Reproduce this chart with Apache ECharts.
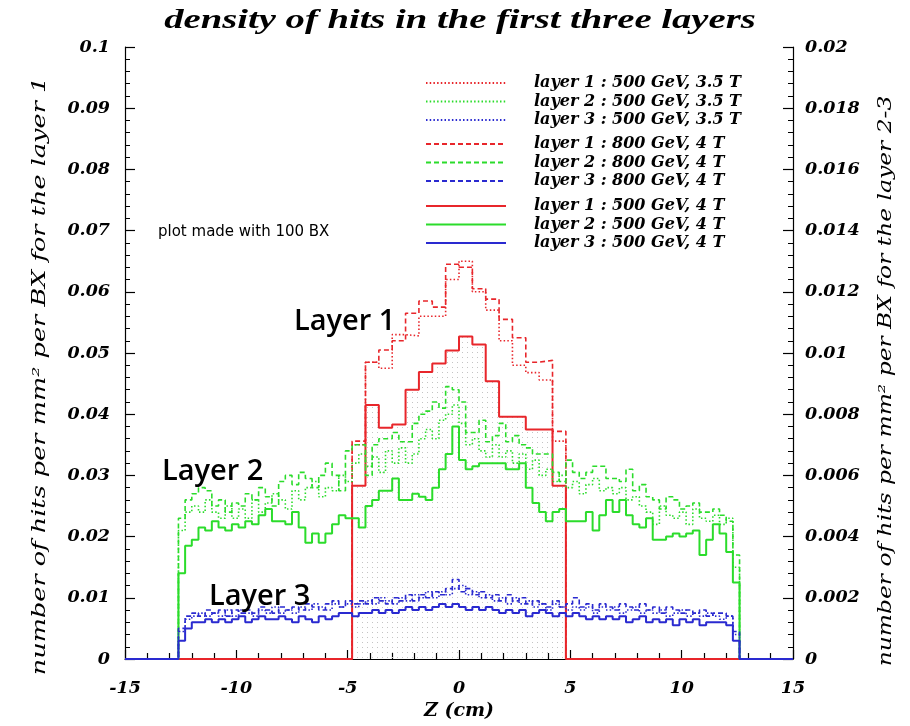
<!DOCTYPE html>
<html><head><meta charset="utf-8">
<script src="https://cdn.jsdelivr.net/npm/echarts@6/dist/echarts.min.js"></script>
<style>html,body{margin:0;padding:0;background:#fff}#chart{width:910px;height:726px}</style>
</head><body><div id="chart"></div>
<script>
// ---- axis ranges / binning (data units: z in cm) ----
const zMin = -15, zMax = 15;
const layer1Start = -4.8, layer1BinWidth = 0.6;
const layer23Start = -12.6, layer23BinWidth = 0.3;
const xTickValues = [-15, -10, -5, 0, 5, 10, 15];

// ---- layer 1 (left axis) ----
const layer1_500GeV_3p5T = [0.0350, 0.0485, 0.0475, 0.0530, 0.0528, 0.0560, 0.0560, 0.0620, 0.0650, 0.0600, 0.0570, 0.0520, 0.0480, 0.0468, 0.0456, 0.0356];
const layer1_800GeV_4T   = [0.0356, 0.0485, 0.0505, 0.0520, 0.0565, 0.0585, 0.0575, 0.0645, 0.0640, 0.0605, 0.0588, 0.0555, 0.0525, 0.0485, 0.0488, 0.0372];
const layer1_500GeV_4T   = [0.0283, 0.0415, 0.0378, 0.0383, 0.0440, 0.0469, 0.0483, 0.0504, 0.0527, 0.0514, 0.0454, 0.0396, 0.0396, 0.0375, 0.0375, 0.0283];

// ---- layer 2 (right axis) ----
const layer2_500GeV_3p5T = [
  0.0042, 0.0048, 0.0050, 0.0048, 0.0052, 0.0048, 0.0046, 0.0050, 0.0046, 0.0049, 0.0046, 0.0052,
  0.0048, 0.0051, 0.0054, 0.0052, 0.0049, 0.0055, 0.0052, 0.0056, 0.0058, 0.0053, 0.0056, 0.0055,
  0.0060, 0.0058, 0.0064, 0.0067, 0.0063, 0.0066, 0.0061, 0.0068, 0.0064, 0.0069, 0.0064, 0.0067,
  0.0072, 0.0075, 0.0072, 0.0078, 0.0080, 0.0083, 0.0077, 0.0070, 0.0072, 0.0068, 0.0066, 0.0070,
  0.0066, 0.0068, 0.0064, 0.0067, 0.0062, 0.0065, 0.0060, 0.0062, 0.0058, 0.0060, 0.0056, 0.0058,
  0.0054, 0.0057, 0.0059, 0.0055, 0.0056, 0.0054, 0.0056, 0.0052, 0.0053, 0.0050, 0.0048, 0.0044,
  0.0050, 0.0047, 0.0046, 0.0048, 0.0044, 0.0049, 0.0046, 0.0045, 0.0047, 0.0044, 0.0046, 0.0030];
const layer2_800GeV_4T = [
  0.0046, 0.0052, 0.0054, 0.0056, 0.0055, 0.0050, 0.0052, 0.0048, 0.0051, 0.0050, 0.0054, 0.0052,
  0.0056, 0.0053, 0.0050, 0.0058, 0.0060, 0.0057, 0.0061, 0.0059, 0.0056, 0.0060, 0.0064, 0.0060,
  0.0055, 0.0068, 0.0070, 0.0070, 0.0060, 0.0070, 0.0072, 0.0072, 0.0074, 0.0071, 0.0071, 0.0077,
  0.0080, 0.0081, 0.0084, 0.0082, 0.0089, 0.0088, 0.0084, 0.0074, 0.0074, 0.0078, 0.0071, 0.0073,
  0.0077, 0.0071, 0.0073, 0.0070, 0.0069, 0.0067, 0.0067, 0.0067, 0.0061, 0.0058, 0.0065, 0.0061,
  0.0059, 0.0061, 0.0063, 0.0063, 0.0059, 0.0059, 0.0058, 0.0062, 0.0055, 0.0057, 0.0053, 0.0052,
  0.0049, 0.0053, 0.0052, 0.0049, 0.0050, 0.0051, 0.0048, 0.0048, 0.0049, 0.0047, 0.0045, 0.0034];
const layer2_500GeV_4T = [
  0.0028, 0.0037, 0.0039, 0.0043, 0.0042, 0.0045, 0.0043, 0.0042, 0.0044, 0.0043, 0.0045, 0.0044,
  0.0047, 0.0049, 0.0045, 0.0045, 0.0044, 0.0048, 0.0043, 0.0038, 0.0041, 0.0038, 0.0041, 0.0044,
  0.0047, 0.0046, 0.0046, 0.0043, 0.0050, 0.0052, 0.0055, 0.0055, 0.0059, 0.0052, 0.0052, 0.0054,
  0.0053, 0.0052, 0.0056, 0.0062, 0.0067, 0.0076, 0.0065, 0.0062, 0.0063, 0.0064, 0.0064, 0.0064,
  0.0064, 0.0062, 0.0062, 0.0064, 0.0056, 0.0051, 0.0048, 0.0045, 0.0048, 0.0049, 0.0045, 0.0045,
  0.0045, 0.0048, 0.0042, 0.0047, 0.0052, 0.0048, 0.0052, 0.0047, 0.0044, 0.0043, 0.0046, 0.0039,
  0.0039, 0.0040, 0.0041, 0.0040, 0.0041, 0.0042, 0.0034, 0.0039, 0.0044, 0.0041, 0.0035, 0.0025];

// ---- layer 3 (right axis) ----
const layer3_500GeV_3p5T = [
  0.0009, 0.0013, 0.0014, 0.0015, 0.0014, 0.0015, 0.0014, 0.0016, 0.0014, 0.0016, 0.0015, 0.0014,
  0.0016, 0.0015, 0.0017, 0.0015, 0.0016, 0.0015, 0.0017, 0.0016, 0.0018, 0.0017, 0.0016, 0.0018,
  0.0017, 0.0018, 0.0017, 0.0018, 0.0019, 0.0018, 0.0020, 0.0019, 0.0018, 0.0020, 0.0019, 0.0021,
  0.0020, 0.0022, 0.0020, 0.0022, 0.0021, 0.0023, 0.0024, 0.0021, 0.0022, 0.0020, 0.0021, 0.0019,
  0.0020, 0.0018, 0.0020, 0.0018, 0.0019, 0.0017, 0.0018, 0.0016, 0.0018, 0.0017, 0.0016, 0.0017,
  0.0016, 0.0017, 0.0015, 0.0017, 0.0016, 0.0017, 0.0015, 0.0016, 0.0017, 0.0015, 0.0016, 0.0015,
  0.0016, 0.0014, 0.0015, 0.0016, 0.0014, 0.0015, 0.0014, 0.0015, 0.0014, 0.0013, 0.0014, 0.0008];
const layer3_800GeV_4T = [
  0.0010, 0.0014, 0.0015, 0.0014, 0.0016, 0.0015, 0.0016, 0.0014, 0.0016, 0.0015, 0.0016, 0.0015,
  0.0017, 0.0016, 0.0015, 0.0017, 0.0016, 0.0017, 0.0016, 0.0018, 0.0017, 0.0016, 0.0018, 0.0019,
  0.0017, 0.0019, 0.0018, 0.0019, 0.0018, 0.0020, 0.0019, 0.0018, 0.0020, 0.0019, 0.0021, 0.0019,
  0.0021, 0.0020, 0.0022, 0.0021, 0.0023, 0.0026, 0.0022, 0.0023, 0.0021, 0.0022, 0.0020, 0.0021,
  0.0019, 0.0021, 0.0019, 0.0020, 0.0018, 0.0019, 0.0018, 0.0017, 0.0019, 0.0017, 0.0018, 0.0020,
  0.0017, 0.0018, 0.0016, 0.0018, 0.0017, 0.0016, 0.0018, 0.0017, 0.0016, 0.0018, 0.0016, 0.0017,
  0.0015, 0.0017, 0.0016, 0.0015, 0.0016, 0.0015, 0.0016, 0.0014, 0.0015, 0.0015, 0.0014, 0.0009];
const layer3_500GeV_4T = [
  0.0006, 0.0010, 0.0012, 0.0012, 0.0013, 0.0012, 0.0013, 0.0012, 0.0013, 0.0014, 0.0012, 0.0013,
  0.0014, 0.0013, 0.0013, 0.0014, 0.0013, 0.0012, 0.0014, 0.0013, 0.0012, 0.0014, 0.0013, 0.0014,
  0.0015, 0.0015, 0.0014, 0.0015, 0.0015, 0.0016, 0.0015, 0.0016, 0.0015, 0.0016, 0.0017, 0.0016,
  0.0017, 0.0016, 0.0017, 0.0018, 0.0017, 0.0018, 0.0017, 0.0016, 0.0017, 0.0016, 0.0017, 0.0016,
  0.0015, 0.0016, 0.0015, 0.0016, 0.0014, 0.0015, 0.0016, 0.0015, 0.0014, 0.0015, 0.0014, 0.0015,
  0.0014, 0.0013, 0.0014, 0.0013, 0.0014, 0.0013, 0.0014, 0.0012, 0.0013, 0.0014, 0.0012, 0.0013,
  0.0012, 0.0013, 0.0011, 0.0013, 0.0012, 0.0013, 0.0011, 0.0012, 0.0012, 0.0012, 0.0011, 0.0006];

const seriesNames = [
  'layer 1 : 500 GeV, 3.5 T', 'layer 2 : 500 GeV, 3.5 T', 'layer 3 : 500 GeV, 3.5 T',
  'layer 1 : 800 GeV, 4 T',   'layer 2 : 800 GeV, 4 T',   'layer 3 : 800 GeV, 4 T',
  'layer 1 : 500 GeV, 4 T',   'layer 2 : 500 GeV, 4 T',   'layer 3 : 500 GeV, 4 T'];

const titleText = 'density of hits in the first three layers';
const leftAxisTitle = 'number of hits per mm² per BX for the layer 1';
const rightAxisTitle = 'number of hits per mm² per BX for the layer 2-3';
const xAxisTitle = 'Z (cm)';

// ---- styles ----
const RED = '#e8262b', GREEN = '#2bdc2b', BLUE = '#2a2ad0';
const SERIF = 'Liberation Serif';
const WIDE_SERIF = 'DejaVu Serif';

function histPoints(start, width, values) {
  const pts = [[zMin, 0]];
  values.forEach((v, i) => pts.push([+(start + i * width).toFixed(3), v]));
  pts.push([+(start + values.length * width).toFixed(3), 0]);
  pts.push([zMax, 0]);
  return pts;
}

const dotPat = document.createElement('canvas');
dotPat.width = 5; dotPat.height = 5;
(function(){ const c = dotPat.getContext('2d'); c.fillStyle = '#c4c4c4'; c.fillRect(2, 2, 1, 1); })();

function mk(name, values, start, width, color, kind, yAxisIndex, z, area) {
  const type = kind === 'dotted' ? [1.5, 2.2] : kind === 'dashed' ? [5, 3] : 'solid';
  const s = {
    name, type: 'line', step: 'end', symbol: 'none', showSymbol: false, yAxisIndex, z,
    data: histPoints(start, width, values),
    lineStyle: { color, width: kind === 'solid' ? 2 : 1.6, type },
    itemStyle: { color },
    emphasis: { disabled: true }, animation: false
  };
  if (area) s.areaStyle = { color: { image: dotPat, repeat: 'repeat' }, opacity: 1 };
  return s;
}

const series = [
  mk(seriesNames[6], layer1_500GeV_4T,   layer1Start,  layer1BinWidth,  RED,   'solid',  0, 2, true),
  mk(seriesNames[0], layer1_500GeV_3p5T, layer1Start,  layer1BinWidth,  RED,   'dotted', 0, 2),
  mk(seriesNames[3], layer1_800GeV_4T,   layer1Start,  layer1BinWidth,  RED,   'dashed', 0, 2),
  mk(seriesNames[1], layer2_500GeV_3p5T, layer23Start, layer23BinWidth, GREEN, 'dotted', 1, 3),
  mk(seriesNames[4], layer2_800GeV_4T,   layer23Start, layer23BinWidth, GREEN, 'dashed', 1, 3),
  mk(seriesNames[7], layer2_500GeV_4T,   layer23Start, layer23BinWidth, GREEN, 'solid',  1, 3),
  mk(seriesNames[2], layer3_500GeV_3p5T, layer23Start, layer23BinWidth, BLUE,  'dotted', 1, 4),
  mk(seriesNames[5], layer3_800GeV_4T,   layer23Start, layer23BinWidth, BLUE,  'dashed', 1, 4),
  mk(seriesNames[8], layer3_500GeV_4T,   layer23Start, layer23BinWidth, BLUE,  'solid',  1, 4)
];

const tickLabel = { fontFamily: WIDE_SERIF, fontStyle: 'italic', fontWeight: 'bold', fontSize: 17.5, color: '#000' };
const axisCommon = {
  axisLine: { show: true, onZero: false, lineStyle: { color: '#000', width: 1.2 } },
  axisTick: { show: true, inside: true, length: 10, lineStyle: { color: '#000', width: 1.2 } },
  minorTick: { show: true, splitNumber: 5, length: 5, lineStyle: { color: '#000', width: 1 } },
  splitLine: { show: false }, minorSplitLine: { show: false }
};

function legendGroup(names, top) {
  return {
    data: names, orient: 'vertical', left: 425, top, padding: 0,
    itemWidth: 80, itemHeight: 12, itemGap: 2.5,
    selectedMode: false,
    itemStyle: { opacity: 0 },
    textStyle: { fontFamily: WIDE_SERIF, fontStyle: 'italic', fontWeight: 'bold', fontSize: 16, color: '#000',
                 padding: [0, 0, 0, 23] }
  };
}

const option = {
  backgroundColor: '#fff',
  animation: false,
  grid: { left: 125, right: 117, top: 47, bottom: 58, containLabel: false },
  legend: [
    legendGroup(seriesNames.slice(0, 3), 75),
    legendGroup(seriesNames.slice(3, 6), 136),
    legendGroup(seriesNames.slice(6, 9), 198)
  ],
  xAxis: {
    type: 'value', min: zMin, max: zMax, interval: 5,
    name: xAxisTitle, nameLocation: 'middle', nameGap: 43,
    nameTextStyle: { fontFamily: WIDE_SERIF, fontStyle: 'italic', fontWeight: 'bold', fontSize: 19, color: '#000' },
    axisLabel: Object.assign({ margin: 20, formatter: v => xTickValues.includes(v) ? String(v) : '' }, tickLabel),
    ...axisCommon,
    axisTick: { show: true, inside: true, length: 9, lineStyle: { color: '#000', width: 1.2 } },
    minorTick: { show: true, splitNumber: 5, length: 6, lineStyle: { color: '#000', width: 1.2 } }
  },
  yAxis: [
    Object.assign({ type: 'value', min: 0, max: 0.1, interval: 0.01, position: 'left',
      axisLabel: Object.assign({ margin: 15 }, tickLabel) }, axisCommon),
    Object.assign({ type: 'value', min: 0, max: 0.02, interval: 0.002, position: 'right',
      axisLabel: Object.assign({ margin: 12 }, tickLabel) }, axisCommon)
  ],
  graphic: [
    { type: 'text', x: 460, y: 21, scaleX: 1.38, z: 10,
      style: { text: titleText, fontFamily: SERIF, fontStyle: 'italic', fontWeight: 'bold', fontSize: 28,
               fill: '#000', align: 'center', verticalAlign: 'middle' } },
    { type: 'text', x: 40, y: 376, rotation: Math.PI / 2, scaleX: 1.42, z: 10,
      style: { text: leftAxisTitle, fontFamily: 'DejaVu Serif', fontStyle: 'italic', fontWeight: 'normal', fontSize: 18,
               fill: '#000', align: 'center', verticalAlign: 'middle' } },
    { type: 'text', x: 886, y: 381, rotation: Math.PI / 2, scaleX: 1.3, z: 10,
      style: { text: rightAxisTitle, fontFamily: 'DejaVu Serif', fontStyle: 'italic', fontWeight: 'normal', fontSize: 18,
               fill: '#000', align: 'center', verticalAlign: 'middle' } },
    { type: 'text', x: 158, y: 232, z: 10,
      style: { text: 'plot made with 100 BX', fontFamily: 'DejaVu Sans', fontSize: 15, fill: '#000', verticalAlign: 'middle' } },
    { type: 'text', x: 294, y: 322, z: 10,
      style: { text: 'Layer 1', fontFamily: 'Open Sans', fontWeight: 600, fontSize: 29, fill: '#000', verticalAlign: 'middle' } },
    { type: 'text', x: 162, y: 472, z: 10,
      style: { text: 'Layer 2', fontFamily: 'Open Sans', fontWeight: 600, fontSize: 29, fill: '#000', verticalAlign: 'middle' } },
    { type: 'text', x: 209, y: 597, z: 10,
      style: { text: 'Layer 3', fontFamily: 'Open Sans', fontWeight: 600, fontSize: 29, fill: '#000', verticalAlign: 'middle' } }
  ],
  series
};

const chart = echarts.init(document.getElementById('chart'), null, { renderer: 'canvas' });
chart.setOption(option);
</script>
</body></html>
